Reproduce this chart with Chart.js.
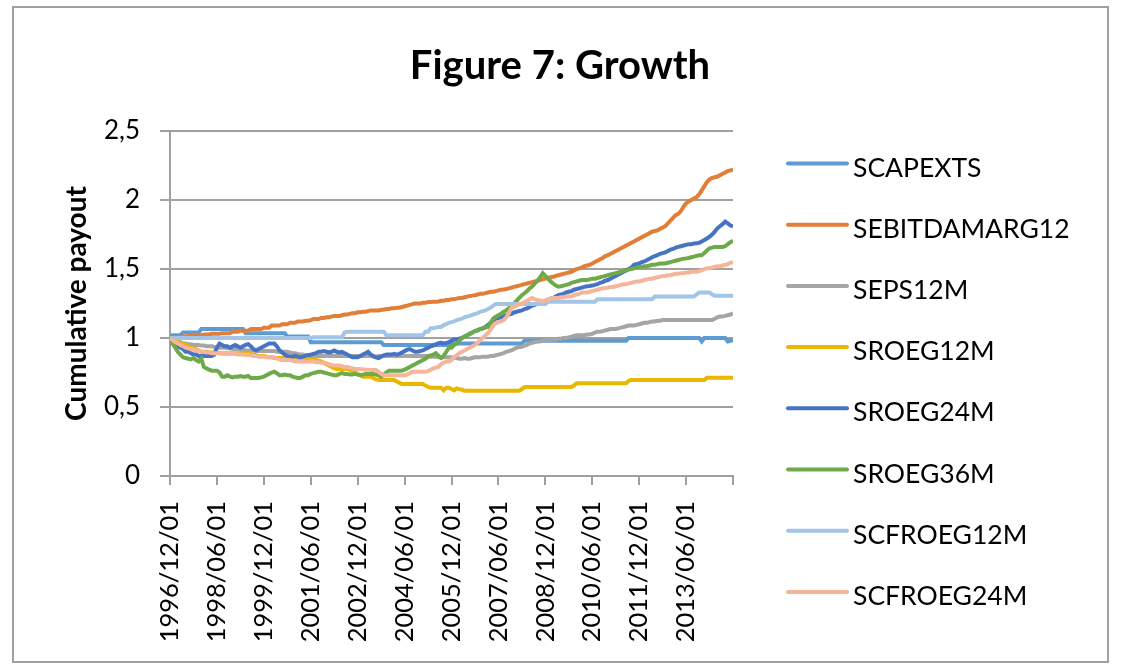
<!DOCTYPE html>
<html lang="en">
<head>
  <meta charset="UTF-8">
  <title>Figure 7: Growth</title>
  <script src="https://cdn.jsdelivr.net/npm/chart.js"></script>
  <style>
    html, body { margin: 0; padding: 0; background: #fff; }
    canvas { display: block; }
  </style>
</head>
<body>
  <canvas id="growth" width="1139" height="666"></canvas>

  <script>
    // x axis: monthly, 1996/12 .. 2014/12 (217 months), one label every 18 months
    const tickLabels = ['1996/12/01','1998/06/01','1999/12/01','2001/06/01','2002/12/01','2004/06/01',
                        '2005/12/01','2007/06/01','2008/12/01','2010/06/01','2011/12/01','2013/06/01'];

    const seriesNames = ['SCAPEXTS','SEBITDAMARG12','SEPS12M','SROEG12M','SROEG24M','SROEG36M','SCFROEG12M','SCFROEG24M'];
    const seriesColors = ['#5E9BD2','#E27E38','#A5A5A5','#E9B700','#4673C3','#6FAA4A','#A2C4E6','#F4B59A'];

    // one row = 18 months
    const scapexts = [
      1.00,1.02,1.02,1.02,1.02,1.04,1.04,1.04,1.04,1.04,1.04,1.04,1.065,1.065,1.065,1.065,1.065,1.065,
      1.065,1.065,1.065,1.065,1.065,1.065,1.065,1.065,1.065,1.065,1.065,1.035,1.035,1.035,1.035,1.035,1.035,1.035,
      1.035,1.035,1.035,1.035,1.035,1.035,1.035,1.035,1.035,1.01,1.01,1.01,1.01,1.01,1.01,1.01,1.01,1.01,
      0.97,0.97,0.97,0.97,0.97,0.97,0.97,0.97,0.97,0.97,0.97,0.97,0.97,0.97,0.97,0.97,0.97,0.97,
      0.97,0.97,0.97,0.97,0.97,0.97,0.97,0.97,0.97,0.97,0.95,0.95,0.95,0.95,0.95,0.95,0.95,0.95,
      0.95,0.95,0.95,0.95,0.95,0.95,0.95,0.95,0.95,0.95,0.95,0.95,0.95,0.95,0.95,0.95,0.95,0.95,
      0.96,0.96,0.96,0.96,0.96,0.96,0.96,0.96,0.96,0.96,0.96,0.96,0.96,0.96,0.96,0.96,0.96,0.96,
      0.96,0.96,0.96,0.96,0.96,0.96,0.96,0.96,0.96,0.96,0.98,0.98,0.98,0.98,0.98,0.98,0.98,0.98,
      0.98,0.98,0.98,0.98,0.98,0.98,0.98,0.98,0.98,0.98,0.98,0.98,0.98,0.98,0.98,0.98,0.98,0.98,
      0.98,0.98,0.98,0.98,0.98,0.98,0.98,0.98,0.98,0.98,0.98,0.98,0.98,0.98,1.00,1.00,1.00,1.00,
      1.00,1.00,1.00,1.00,1.00,1.00,1.00,1.00,1.00,1.00,1.00,1.00,1.00,1.00,1.00,1.00,1.00,1.00,
      1.00,1.00,1.00,1.00,1.00,1.00,0.975,1.00,1.00,1.00,1.00,1.00,1.00,1.00,1.00,1.00,0.975,0.98,
      0.985
    ];
    const sebitdamarg12 = [
      1.00,1.00,1.005,1.005,1.01,1.01,1.01,1.015,1.015,1.02,1.02,1.02,1.02,1.025,1.025,1.025,1.03,1.03,
      1.03,1.03,1.035,1.035,1.035,1.035,1.045,1.045,1.045,1.053,1.053,1.053,1.053,1.065,1.065,1.065,1.065,1.065,
      1.075,1.075,1.075,1.09,1.09,1.09,1.09,1.10,1.10,1.10,1.11,1.11,1.11,1.12,1.12,1.12,1.125,1.125,
      1.13,1.137,1.137,1.137,1.145,1.145,1.15,1.15,1.155,1.16,1.16,1.16,1.165,1.17,1.17,1.175,1.18,1.18,
      1.186,1.186,1.19,1.19,1.195,1.20,1.20,1.20,1.20,1.205,1.205,1.21,1.21,1.215,1.215,1.22,1.22,1.225,
      1.23,1.235,1.24,1.245,1.25,1.25,1.25,1.255,1.255,1.26,1.26,1.263,1.263,1.265,1.27,1.27,1.275,1.275,
      1.28,1.28,1.285,1.29,1.29,1.295,1.30,1.305,1.307,1.31,1.315,1.32,1.32,1.325,1.33,1.335,1.335,1.34,
      1.345,1.35,1.352,1.355,1.36,1.365,1.37,1.375,1.38,1.385,1.39,1.395,1.40,1.405,1.41,1.415,1.42,1.425,
      1.43,1.435,1.44,1.444,1.45,1.455,1.46,1.465,1.47,1.475,1.48,1.49,1.50,1.505,1.51,1.52,1.525,1.53,
      1.54,1.55,1.56,1.57,1.58,1.594,1.60,1.61,1.62,1.63,1.64,1.65,1.66,1.67,1.68,1.69,1.70,1.71,
      1.72,1.73,1.74,1.75,1.76,1.77,1.775,1.78,1.79,1.80,1.81,1.83,1.85,1.87,1.89,1.90,1.92,1.95,
      1.976,1.99,2.00,2.01,2.02,2.04,2.07,2.10,2.13,2.15,2.16,2.165,2.17,2.18,2.19,2.20,2.21,2.215,
      2.22
    ];
    const seps12m = [
      1.00,0.99,0.98,0.975,0.97,0.96,0.96,0.955,0.955,0.95,0.95,0.95,0.945,0.945,0.94,0.94,0.94,0.935,
      0.935,0.93,0.93,0.93,0.925,0.925,0.92,0.92,0.92,0.915,0.915,0.91,0.91,0.91,0.91,0.905,0.905,0.905,
      0.905,0.905,0.905,0.905,0.905,0.90,0.90,0.90,0.90,0.90,0.895,0.89,0.89,0.885,0.88,0.88,0.875,0.875,
      0.87,0.87,0.87,0.87,0.87,0.87,0.87,0.87,0.87,0.87,0.87,0.87,0.87,0.87,0.87,0.87,0.87,0.87,
      0.87,0.87,0.87,0.87,0.87,0.87,0.865,0.865,0.87,0.87,0.87,0.87,0.87,0.87,0.87,0.87,0.87,0.87,
      0.87,0.87,0.87,0.87,0.87,0.87,0.87,0.87,0.87,0.87,0.865,0.865,0.865,0.86,0.86,0.86,0.86,0.86,
      0.86,0.855,0.855,0.85,0.85,0.855,0.85,0.85,0.855,0.86,0.86,0.86,0.865,0.865,0.865,0.87,0.87,0.875,
      0.88,0.885,0.89,0.90,0.905,0.91,0.92,0.93,0.935,0.937,0.945,0.95,0.96,0.965,0.97,0.975,0.975,0.98,
      0.985,0.985,0.985,0.99,0.99,0.995,0.995,1.00,1.00,1.005,1.01,1.015,1.02,1.02,1.02,1.02,1.025,1.025,
      1.03,1.04,1.046,1.046,1.05,1.055,1.06,1.065,1.065,1.065,1.07,1.075,1.08,1.085,1.09,1.09,1.09,1.095,
      1.10,1.105,1.11,1.11,1.115,1.12,1.12,1.125,1.125,1.13,1.13,1.13,1.13,1.13,1.13,1.13,1.13,1.13,
      1.13,1.13,1.13,1.13,1.13,1.13,1.13,1.13,1.13,1.13,1.13,1.14,1.15,1.155,1.155,1.16,1.165,1.17,
      1.18
    ];
    const sroeg12m = [
      1.00,0.99,0.98,0.97,0.96,0.955,0.95,0.94,0.93,0.925,0.92,0.91,0.90,0.90,0.90,0.895,0.895,0.895,
      0.895,0.89,0.89,0.89,0.89,0.89,0.89,0.89,0.89,0.89,0.89,0.885,0.885,0.885,0.88,0.875,0.87,0.87,
      0.87,0.865,0.86,0.86,0.855,0.855,0.855,0.855,0.855,0.855,0.86,0.86,0.86,0.855,0.85,0.85,0.845,0.845,
      0.84,0.84,0.84,0.835,0.83,0.82,0.81,0.80,0.79,0.78,0.775,0.775,0.775,0.775,0.775,0.77,0.76,0.75,
      0.74,0.73,0.72,0.72,0.72,0.72,0.71,0.70,0.696,0.696,0.696,0.696,0.696,0.696,0.696,0.685,0.675,0.667,
      0.667,0.667,0.667,0.667,0.667,0.667,0.667,0.667,0.655,0.645,0.64,0.64,0.64,0.64,0.64,0.62,0.64,0.64,
      0.63,0.62,0.635,0.63,0.625,0.618,0.618,0.618,0.618,0.618,0.618,0.618,0.618,0.618,0.618,0.618,0.618,0.618,
      0.618,0.618,0.618,0.618,0.618,0.618,0.618,0.618,0.618,0.63,0.645,0.645,0.645,0.645,0.645,0.645,0.645,0.645,
      0.645,0.645,0.645,0.645,0.645,0.645,0.645,0.645,0.645,0.645,0.645,0.655,0.672,0.672,0.672,0.672,0.672,0.672,
      0.672,0.672,0.672,0.672,0.672,0.672,0.672,0.672,0.672,0.672,0.672,0.672,0.672,0.672,0.69,0.696,0.696,0.696,
      0.696,0.696,0.696,0.696,0.696,0.696,0.696,0.696,0.696,0.696,0.696,0.696,0.696,0.696,0.696,0.696,0.696,0.696,
      0.696,0.696,0.696,0.696,0.696,0.696,0.696,0.696,0.712,0.712,0.712,0.712,0.712,0.712,0.712,0.712,0.712,0.712,
      0.712
    ];
    const sroeg24m = [
      1.00,0.96,0.95,0.94,0.93,0.92,0.90,0.90,0.89,0.88,0.88,0.87,0.87,0.87,0.87,0.87,0.87,0.88,
      0.93,0.96,0.95,0.94,0.94,0.93,0.94,0.95,0.94,0.93,0.94,0.95,0.955,0.94,0.92,0.91,0.92,0.93,
      0.94,0.95,0.96,0.96,0.96,0.94,0.91,0.895,0.88,0.87,0.865,0.865,0.87,0.865,0.86,0.865,0.87,0.875,
      0.88,0.885,0.89,0.90,0.90,0.905,0.90,0.895,0.90,0.91,0.90,0.895,0.90,0.89,0.88,0.87,0.86,0.86,
      0.86,0.87,0.88,0.89,0.90,0.88,0.87,0.86,0.855,0.865,0.875,0.88,0.88,0.88,0.885,0.88,0.885,0.895,
      0.905,0.915,0.92,0.91,0.90,0.90,0.905,0.91,0.92,0.93,0.94,0.945,0.955,0.963,0.965,0.96,0.965,0.97,
      0.98,0.99,0.99,0.995,1.00,1.01,1.02,1.03,1.04,1.05,1.055,1.065,1.07,1.08,1.095,1.11,1.125,1.14,
      1.145,1.15,1.155,1.165,1.17,1.175,1.185,1.19,1.196,1.20,1.21,1.215,1.225,1.235,1.24,1.25,1.255,1.26,
      1.27,1.275,1.285,1.29,1.30,1.31,1.315,1.32,1.33,1.335,1.34,1.35,1.355,1.36,1.365,1.37,1.375,1.377,
      1.38,1.385,1.39,1.40,1.405,1.415,1.42,1.43,1.44,1.45,1.46,1.47,1.48,1.49,1.50,1.51,1.53,1.535,
      1.54,1.55,1.555,1.565,1.575,1.585,1.594,1.60,1.61,1.615,1.62,1.63,1.64,1.645,1.655,1.66,1.665,1.67,
      1.675,1.68,1.68,1.685,1.686,1.69,1.70,1.71,1.72,1.735,1.75,1.77,1.795,1.81,1.825,1.843,1.83,1.815,
      1.81
    ];
    const sroeg36m = [
      1.00,0.96,0.93,0.90,0.88,0.86,0.855,0.85,0.845,0.855,0.84,0.83,0.85,0.79,0.78,0.77,0.763,0.763,
      0.763,0.75,0.72,0.72,0.73,0.72,0.715,0.72,0.72,0.725,0.72,0.72,0.725,0.71,0.71,0.71,0.71,0.715,
      0.72,0.73,0.74,0.75,0.756,0.745,0.73,0.73,0.735,0.73,0.73,0.72,0.715,0.71,0.71,0.72,0.73,0.73,
      0.74,0.745,0.75,0.756,0.756,0.75,0.745,0.74,0.735,0.73,0.73,0.74,0.745,0.74,0.74,0.735,0.735,0.74,
      0.735,0.73,0.735,0.74,0.74,0.74,0.74,0.735,0.73,0.72,0.735,0.75,0.763,0.763,0.763,0.763,0.763,0.765,
      0.77,0.78,0.79,0.80,0.81,0.82,0.83,0.84,0.85,0.865,0.875,0.88,0.89,0.87,0.855,0.87,0.90,0.93,
      0.93,0.95,0.96,0.98,1.00,1.01,1.02,1.03,1.04,1.05,1.058,1.065,1.07,1.075,1.08,1.11,1.14,1.155,
      1.165,1.175,1.19,1.20,1.215,1.23,1.25,1.27,1.29,1.31,1.324,1.34,1.36,1.375,1.396,1.415,1.44,1.469,
      1.45,1.43,1.41,1.395,1.38,1.372,1.375,1.38,1.385,1.39,1.40,1.405,1.41,1.415,1.42,1.42,1.42,1.425,
      1.43,1.43,1.435,1.44,1.445,1.45,1.455,1.46,1.465,1.47,1.475,1.48,1.488,1.49,1.495,1.50,1.505,1.51,
      1.515,1.517,1.52,1.52,1.525,1.53,1.53,1.535,1.54,1.54,1.54,1.545,1.55,1.555,1.56,1.565,1.57,1.575,
      1.577,1.58,1.585,1.59,1.595,1.60,1.60,1.615,1.635,1.65,1.655,1.66,1.66,1.66,1.66,1.665,1.68,1.695,
      1.705
    ];
    const scfroeg12m = [
      1.00,1.00,1.00,1.00,1.00,1.00,1.00,1.00,1.00,1.00,1.00,1.00,1.00,1.00,1.00,1.00,1.00,1.00,
      1.00,1.00,1.00,1.00,1.00,1.00,1.00,1.00,1.00,1.00,1.00,1.00,1.00,1.00,1.00,1.00,1.00,1.00,
      1.00,1.00,1.00,1.00,1.00,1.00,1.00,1.00,1.00,1.00,1.00,1.00,1.00,1.00,1.00,1.00,1.00,1.00,
      1.00,1.005,1.005,1.005,1.005,1.005,1.005,1.005,1.005,1.005,1.005,1.005,1.005,1.04,1.046,1.046,1.046,1.046,
      1.046,1.046,1.046,1.046,1.046,1.046,1.046,1.046,1.046,1.046,1.046,1.02,1.02,1.02,1.02,1.02,1.02,1.02,
      1.02,1.02,1.02,1.02,1.02,1.02,1.02,1.02,1.046,1.046,1.07,1.07,1.075,1.08,1.08,1.094,1.10,1.11,
      1.115,1.12,1.13,1.135,1.14,1.15,1.155,1.16,1.167,1.175,1.18,1.19,1.195,1.20,1.21,1.22,1.235,1.246,
      1.246,1.246,1.246,1.246,1.246,1.246,1.246,1.246,1.246,1.246,1.246,1.246,1.246,1.246,1.246,1.246,1.246,1.246,
      1.246,1.263,1.263,1.263,1.263,1.263,1.263,1.263,1.263,1.263,1.263,1.263,1.263,1.263,1.263,1.263,1.263,1.263,
      1.263,1.263,1.28,1.28,1.28,1.28,1.28,1.28,1.28,1.28,1.28,1.28,1.28,1.28,1.28,1.28,1.28,1.28,
      1.28,1.28,1.28,1.28,1.28,1.28,1.30,1.30,1.30,1.30,1.30,1.30,1.30,1.30,1.30,1.30,1.30,1.30,
      1.30,1.30,1.30,1.30,1.315,1.33,1.33,1.33,1.33,1.33,1.315,1.307,1.307,1.307,1.307,1.307,1.307,1.307,
      1.307
    ];
    const scfroeg24m = [
      1.00,0.985,0.97,0.96,0.95,0.94,0.93,0.925,0.92,0.915,0.91,0.905,0.90,0.90,0.895,0.895,0.89,0.89,
      0.89,0.89,0.885,0.885,0.885,0.885,0.885,0.885,0.88,0.88,0.88,0.877,0.877,0.875,0.87,0.87,0.865,0.865,
      0.865,0.86,0.86,0.86,0.86,0.85,0.845,0.84,0.84,0.84,0.84,0.835,0.83,0.83,0.83,0.83,0.83,0.83,
      0.83,0.83,0.825,0.825,0.82,0.82,0.818,0.81,0.805,0.80,0.80,0.80,0.795,0.79,0.79,0.785,0.78,0.775,
      0.775,0.774,0.774,0.77,0.77,0.768,0.768,0.768,0.755,0.74,0.73,0.73,0.73,0.73,0.73,0.73,0.73,0.73,
      0.73,0.735,0.745,0.756,0.756,0.756,0.756,0.756,0.756,0.76,0.77,0.78,0.785,0.79,0.81,0.82,0.83,0.83,
      0.84,0.86,0.875,0.89,0.90,0.91,0.92,0.93,0.94,0.95,0.965,0.985,1.00,1.02,1.035,1.06,1.09,1.108,
      1.115,1.12,1.13,1.15,1.18,1.217,1.225,1.235,1.245,1.25,1.26,1.27,1.28,1.29,1.28,1.275,1.27,1.27,
      1.27,1.28,1.285,1.29,1.29,1.29,1.295,1.295,1.30,1.30,1.30,1.31,1.315,1.32,1.33,1.33,1.33,1.335,
      1.34,1.345,1.35,1.355,1.36,1.36,1.365,1.37,1.37,1.375,1.38,1.385,1.39,1.39,1.396,1.40,1.405,1.41,
      1.41,1.415,1.42,1.425,1.43,1.43,1.435,1.44,1.445,1.45,1.45,1.455,1.457,1.46,1.465,1.465,1.47,1.47,
      1.475,1.475,1.48,1.48,1.48,1.485,1.49,1.50,1.505,1.505,1.51,1.515,1.52,1.52,1.525,1.53,1.535,1.545,
      1.55
    ];

    const seriesValues = [scapexts, sebitdamarg12, seps12m, sroeg12m, sroeg24m, sroeg36m, scfroeg12m, scfroeg24m];
    seriesValues.forEach((s, i) => {
      if (s.length !== 217) throw new Error(seriesNames[i] + ' has ' + s.length + ' values');
    });

    const gridGray = '#A0A0A0';

    // frame, title and legend drawn like the spreadsheet chart
    const decorPlugin = {
      id: 'decor',
      beforeDraw(chart) {
        const ctx = chart.ctx;
        ctx.save();
        ctx.fillStyle = '#fff';
        ctx.fillRect(0, 0, chart.width, chart.height);
        ctx.strokeStyle = gridGray;
        ctx.lineWidth = 2;
        ctx.strokeRect(13, 7, 1095, 655);
        ctx.restore();
      },
      afterDraw(chart) {
        const ctx = chart.ctx;
        ctx.save();
        ctx.fillStyle = '#000';
        ctx.font = 'bold 40px Lato';
        ctx.textAlign = 'center';
        ctx.textBaseline = 'alphabetic';
        ctx.fillText('Figure 7: Growth', 560, 79);

        ctx.font = '26.5px Lato';
        ctx.textAlign = 'left';
        seriesNames.forEach((name, i) => {
          const y = 163.5 + i * 61.2;
          ctx.strokeStyle = seriesColors[i];
          ctx.lineWidth = 4;
          ctx.lineCap = 'round';
          ctx.beginPath();
          ctx.moveTo(788, y);
          ctx.lineTo(847, y);
          ctx.stroke();
          ctx.fillStyle = '#000';
          ctx.fillText(name, 853, y + 13);
        });
        ctx.restore();
      }
    };

    const datasets = seriesNames.map((name, i) => ({
      label: name,
      data: seriesValues[i].map((v, m) => ({ x: m, y: v })),
      borderColor: seriesColors[i],
      backgroundColor: seriesColors[i],
      borderWidth: 4,
      pointRadius: 0,
      tension: 0,
      fill: false,
      order: seriesNames.length - i
    }));

    new Chart(document.getElementById('growth'), {
      type: 'line',
      data: { datasets },
      plugins: [decorPlugin],
      options: {
        responsive: false,
        animation: false,
        layout: { padding: { left: 12, right: 406, top: 131, bottom: 0 } },
        plugins: {
          legend: { display: false },
          title: { display: false },
          tooltip: { enabled: false }
        },
        scales: {
          x: {
            type: 'linear',
            min: 0,
            max: 216,
            afterFit: s => { s.height = 190; },
            border: { color: gridGray, width: 2 },
            grid: { drawOnChartArea: false, drawTicks: true, tickLength: 9, color: gridGray, lineWidth: 2 },
            ticks: {
              stepSize: 18,
              autoSkip: false,
              minRotation: 90,
              maxRotation: 90,
              padding: 16,
              color: '#000',
              font: { family: 'Lato', size: 25.5 },
              callback: v => tickLabels[v / 18] || ''
            }
          },
          y: {
            min: 0,
            max: 2.5,
            afterFit: s => { s.width = 158; },
            border: { color: gridGray, width: 2 },
            grid: { color: gridGray, lineWidth: 2, tickLength: 10 },
            ticks: {
              stepSize: 0.5,
              padding: 20,
              color: '#000',
              font: { family: 'Lato', size: 26 },
              callback: v => String(v).replace('.', ',')
            },
            title: {
              display: true,
              text: 'Cumulative payout',
              color: '#000',
              font: { family: 'Lato', size: 28, weight: 'bold' },
              padding: { top: 48, bottom: 0 }
            }
          }
        }
      }
    });
  </script>
</body>
</html>
